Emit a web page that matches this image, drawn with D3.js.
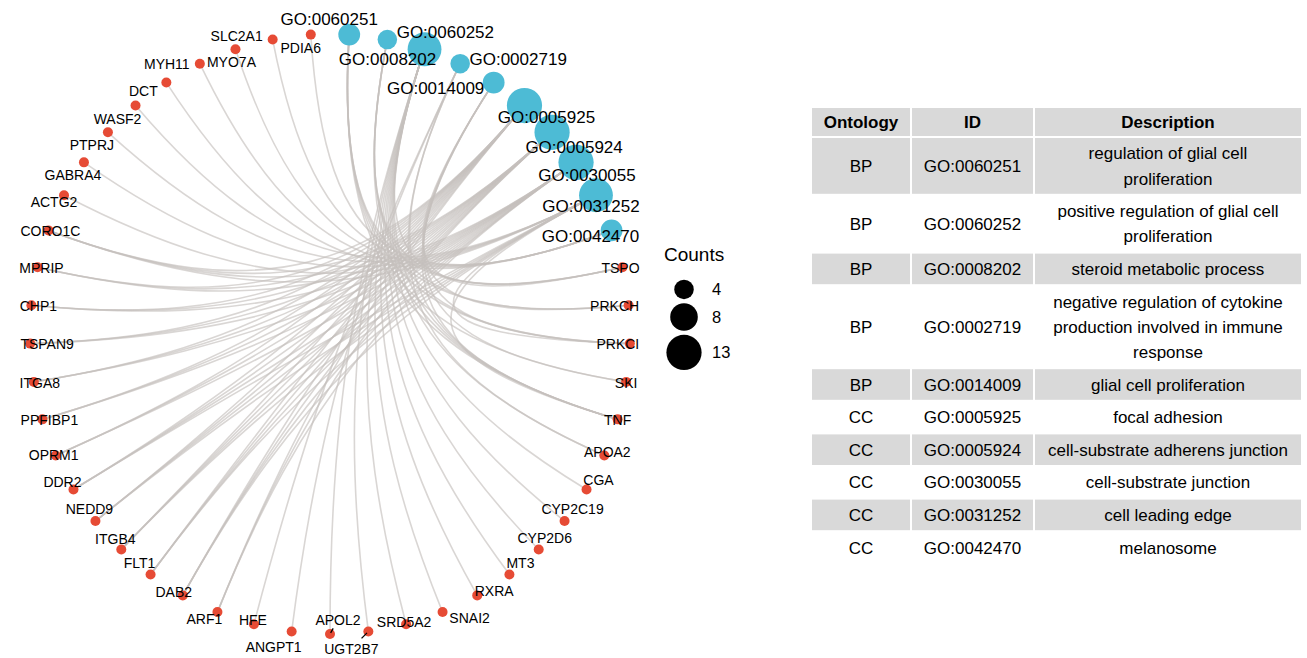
<!DOCTYPE html>
<html>
<head>
<meta charset="utf-8">
<script src="https://cdn.jsdelivr.net/npm/d3@7"></script>
<style>
  body { margin: 0; background: #fff; }
  text { font-family: "Liberation Sans", Arial, Helvetica, sans-serif; fill: #000; }
</style>
</head>
<body>
<svg id="chart" width="1307" height="658"></svg>
<script>
// GO terms (order as in the network)
var goIds = ["GO:0060251", "GO:0060252", "GO:0008202", "GO:0002719", "GO:0014009",
             "GO:0005925", "GO:0005924", "GO:0030055", "GO:0031252", "GO:0042470"];
var ontology = ["BP", "BP", "BP", "BP", "BP", "CC", "CC", "CC", "CC", "CC"];
var descriptions = [
  "regulation of glial cell proliferation",
  "positive regulation of glial cell proliferation",
  "steroid metabolic process",
  "negative regulation of cytokine production involved in immune response",
  "glial cell proliferation",
  "focal adhesion",
  "cell-substrate adherens junction",
  "cell-substrate junction",
  "cell leading edge",
  "melanosome"
];

// genes of each term
var geneSets = [
  ["TSPO", "PRKCH", "PRKCI", "SKI", "TNF"],
  ["TSPO", "PRKCH", "PRKCI", "TNF"],
  ["TSPO", "APOA2", "CGA", "CYP2C19", "CYP2D6", "MT3", "RXRA", "SNAI2", "SRD5A2", "UGT2B7", "APOL2", "TNF"],
  ["APOA2", "ANGPT1", "HFE", "TNF"],
  ["TSPO", "PRKCH", "PRKCI", "SKI", "TNF"],
  ["ARF1", "DAB2", "FLT1", "ITGB4", "NEDD9", "DDR2", "OPRM1", "PPFIBP1", "ITGA8", "TSPAN9", "CHP1", "MPRIP", "CORO1C"],
  ["ARF1", "DAB2", "FLT1", "ITGB4", "NEDD9", "DDR2", "OPRM1", "PPFIBP1", "ITGA8", "TSPAN9", "CHP1", "MPRIP", "CORO1C"],
  ["ARF1", "DAB2", "FLT1", "ITGB4", "NEDD9", "DDR2", "OPRM1", "PPFIBP1", "ITGA8", "TSPAN9", "CHP1", "MPRIP", "CORO1C"],
  ["ACTG2", "GABRA4", "PTPRJ", "WASF2", "CORO1C", "NEDD9", "ITGB4", "PRKCI", "DAB2", "FLT1", "DDR2", "TNF"],
  ["DCT", "MYH11", "MYO7A", "SLC2A1", "PDIA6"]
];

// genes in order of first appearance
var geneOrder = ["TSPO", "PRKCH", "PRKCI", "SKI", "TNF", "APOA2", "CGA", "CYP2C19", "CYP2D6", "MT3",
                 "RXRA", "SNAI2", "SRD5A2", "UGT2B7", "APOL2", "ANGPT1", "HFE", "ARF1", "DAB2", "FLT1",
                 "ITGB4", "NEDD9", "DDR2", "OPRM1", "PPFIBP1", "ITGA8", "TSPAN9", "CHP1", "MPRIP", "CORO1C",
                 "ACTG2", "GABRA4", "PTPRJ", "WASF2", "DCT", "MYH11", "MYO7A", "SLC2A1", "PDIA6"];

var legendBreaks = [4, 8, 13];
var tableHeader = ["Ontology", "ID", "Description"];

// where the repelled labels ended up, relative to their node
var labelNudge = {
  "GO:0060251": [-20, -16], "GO:0060252": [58, -8], "GO:0008202": [-37, 10], "GO:0002719": [58, -5],
  "GO:0014009": [-58, 5], "GO:0005925": [22, 11], "GO:0005924": [22, 15], "GO:0030055": [11, 13],
  "GO:0031252": [-5, 11], "GO:0042470": [-21, 5],
  TSPO: [-2, 1], PRKCH: [-14, 1], PRKCI: [-12, 0], SKI: [0, 1], TNF: [0, 1], APOA2: [3, -3],
  CGA: [12, -10], CYP2C19: [8, -12], CYP2D6: [6, -12], MT3: [11, -11], RXRA: [17, -4], SNAI2: [27, 6],
  SRD5A2: [-2, -2], UGT2B7: [-17, 17], APOL2: [8, -14], ANGPT1: [-18, 15], HFE: [-1, -4],
  ARF1: [-13, 7], DAB2: [-9, -3], FLT1: [-11, -11], ITGB4: [-6, -11], NEDD9: [-6, -12], DDR2: [-11, -8],
  OPRM1: [-2, 0], PPFIBP1: [7, 1], ITGA8: [6, 1], TSPAN9: [17, 0], CHP1: [7, 1], MPRIP: [4, 1],
  CORO1C: [2, 1], ACTG2: [-10, 7], GABRA4: [-11, 13], PTPRJ: [-16, 13], WASF2: [-18, 13],
  DCT: [-23, 8], MYH11: [-33, 0], MYO7A: [-4, 13], SLC2A1: [-36, -4], PDIA6: [-10, 13]
};
var withSegment = ["UGT2B7", "APOL2"];

var svg = d3.select("#chart");
var cx = 330, cy = 334, R = 300;
var strength = 0.75; // how far the arcs bend toward the centre
var goColor = "#4DBBD5", geneColor = "#E64B35";

var nodeNames = goIds.concat(geneOrder);
var angle = d3.scaleBand().domain(nodeNames).range([0, 2 * Math.PI]);
var size = d3.scaleSqrt().domain([0, 13]).range([0, 17.6]);

function pos(name) {
  var a = angle(name) + angle.bandwidth() / 2;
  return [cx + R * Math.sin(a), cy - R * Math.cos(a)];
}

// edges: cubic curves with control points pulled toward the centre
var edges = [];
goIds.forEach(function(id, i) {
  geneSets[i].forEach(function(g) { edges.push({ from: id, to: g }); });
});

function pull(p) {
  return [cx + (p[0] - cx) * (1 - strength), cy + (p[1] - cy) * (1 - strength)];
}

svg.append("g").attr("class", "edges")
  .selectAll("path").data(edges).enter().append("path")
  .attr("d", function(d) {
    var p0 = pos(d.from), p1 = pos(d.to), c0 = pull(p0), c1 = pull(p1);
    var p = d3.path();
    p.moveTo(p0[0], p0[1]);
    p.bezierCurveTo(c0[0], c0[1], c1[0], c1[1], p1[0], p1[1]);
    return p.toString();
  })
  .attr("fill", "none")
  .attr("stroke", "#c4c0bd")
  .attr("stroke-opacity", 0.65)
  .attr("stroke-width", 1.6);

// nodes
var nodes = goIds.map(function(id, i) {
  return { name: id, go: true, count: geneSets[i].length };
}).concat(geneOrder.map(function(g) { return { name: g, go: false }; }));

svg.append("g").attr("class", "nodes")
  .selectAll("circle").data(nodes).enter().append("circle")
  .attr("cx", function(d) { return pos(d.name)[0]; })
  .attr("cy", function(d) { return pos(d.name)[1]; })
  .attr("r", function(d) { return d.go ? size(d.count) : 5; })
  .attr("fill", function(d) { return d.go ? goColor : geneColor; });

// label segments
svg.append("g").selectAll("line").data(withSegment).enter().append("line")
  .attr("x1", function(d) { return pos(d)[0] + labelNudge[d][0] * 0.08; })
  .attr("y1", function(d) { return pos(d)[1] + labelNudge[d][1] * 0.08; })
  .attr("x2", function(d) { return pos(d)[0] + labelNudge[d][0] * 0.4; })
  .attr("y2", function(d) { return pos(d)[1] + labelNudge[d][1] * 0.4; })
  .attr("stroke", "#000").attr("stroke-width", 1.3);

// labels
svg.append("g").attr("class", "labels")
  .selectAll("text").data(nodes).enter().append("text")
  .attr("x", function(d) { return pos(d.name)[0] + labelNudge[d.name][0]; })
  .attr("y", function(d) { return pos(d.name)[1] + labelNudge[d.name][1]; })
  .attr("dy", "0.36em")
  .attr("text-anchor", "middle")
  .style("font-size", function(d) { return d.go ? "17px" : "14px"; })
  .text(function(d) { return d.name; });

// size legend
var legend = svg.append("g").attr("transform", "translate(664,0)");
legend.append("text").attr("x", 0).attr("y", 254).attr("dy", "0.36em")
  .style("font-size", "19px").text("Counts");
var ky = 277.7;
legendBreaks.forEach(function(b) {
  var r = size(b), h = 2 * r + 4, c = ky + h / 2;
  legend.append("circle").attr("cx", 20).attr("cy", c).attr("r", r).attr("fill", "#000");
  legend.append("text").attr("x", 48).attr("y", c).attr("dy", "0.36em")
    .style("font-size", "16.5px").text(b);
  ky += h;
});

// table
var colX = [811, 911, 1034, 1302];
var lineH = 25.2, fs = 17, wrapW = 252;
var table = svg.append("g").attr("class", "table");

function wrap(str) {
  var probe = table.append("text").style("font-size", fs + "px");
  var words = str.split(" "), lines = [], cur = "";
  words.forEach(function(w) {
    var t = cur ? cur + " " + w : w;
    probe.text(t);
    if (probe.node().getComputedTextLength() > wrapW && cur) { lines.push(cur); cur = w; }
    else cur = t;
  });
  lines.push(cur);
  probe.remove();
  return lines;
}

var rows = goIds.map(function(id, i) {
  return { cells: [[ontology[i]], [id], wrap(descriptions[i])], fill: i % 2 === 0 };
});

var y = 107;
function drawRow(cells, h, shaded, bold) {
  for (var c = 0; c < 3; c++) {
    if (shaded) {
      table.append("rect").attr("x", colX[c] + 1).attr("y", y + 1)
        .attr("width", colX[c + 1] - colX[c] - 2).attr("height", h - 2).attr("fill", "#d9d9d9");
    }
    var lines = cells[c], mid = (colX[c] + colX[c + 1]) / 2;
    var top = y + h / 2 - (lines.length - 1) * lineH / 2;
    lines.forEach(function(l, k) {
      table.append("text").attr("x", mid).attr("y", top + k * lineH).attr("dy", "0.36em")
        .attr("text-anchor", "middle").style("font-size", fs + "px")
        .style("font-weight", bold ? "bold" : "normal").text(l);
    });
  }
  y += h;
}

drawRow(tableHeader.map(function(t) { return [t]; }), 30, true, true);
rows.forEach(function(r) {
  var n = d3.max(r.cells, function(c) { return c.length; });
  drawRow(r.cells, n * lineH + 7.4, r.fill, false);
});
</script>
</body>
</html>
